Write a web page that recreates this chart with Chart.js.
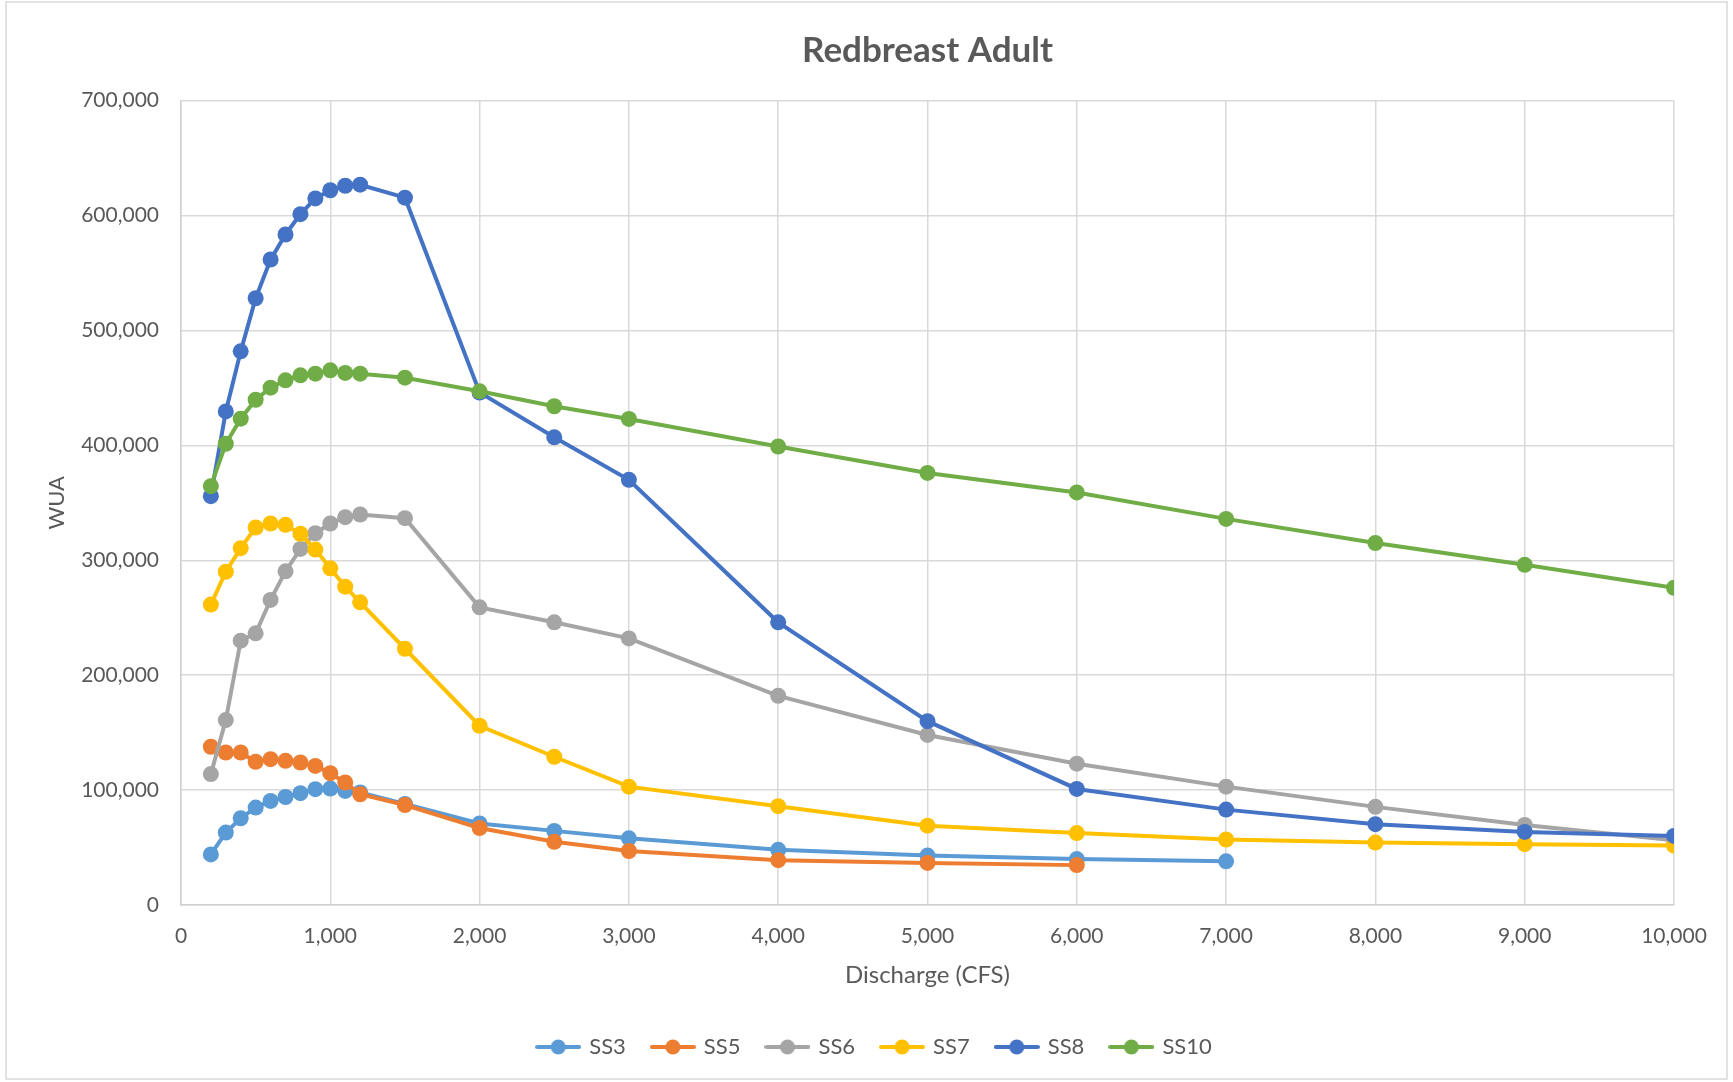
<!DOCTYPE html>
<html>
<head>
<meta charset="utf-8">
<script src="https://cdn.jsdelivr.net/npm/chart.js@4.4.1/dist/chart.umd.min.js"></script>
<style>
  html, body { margin: 0; padding: 0; background: #fff; }
  #wrap { width: 1733px; height: 1082px; position: relative; }
</style>
</head>
<body>
<div id="wrap"><canvas id="myChart" width="1733" height="1082"></canvas></div>
<script>
// discharge values (CFS) shared by all series
const discharge = [200, 300, 400, 500, 600, 700, 800, 900, 1000, 1100, 1200, 1500, 2000, 2500, 3000, 4000, 5000, 6000, 7000, 8000, 9000, 10000];

// WUA, series stop where the line stops
const ss3 = [44000, 63000, 75500, 84800, 90600, 94000, 97300, 100800, 101300, 99300, 97900, 88000, 71000, 64500, 58000, 48000, 43000, 40000, 38000];
const ss5 = [137700, 132700, 132700, 124600, 126900, 125500, 124000, 121000, 114700, 106600, 96400, 87000, 67000, 55000, 47000, 39000, 36600, 34700];
const ss6 = [113900, 160900, 230000, 236400, 265500, 290400, 309900, 323500, 332000, 337500, 339800, 336600, 259000, 246000, 232000, 182000, 148000, 123000, 103000, 85400, 69700, 56300];
const ss7 = [261400, 290000, 310500, 328500, 332000, 330800, 323000, 309300, 293000, 277000, 263400, 223000, 156000, 129000, 103000, 86000, 69000, 62600, 57000, 54300, 52900, 51700];
const ss8 = [355800, 429500, 481800, 528000, 561700, 583500, 601200, 614900, 622000, 625900, 626800, 615500, 446000, 407000, 370000, 246000, 160000, 101000, 83000, 70300, 63600, 60100];
const ss10 = [364500, 401400, 423200, 439700, 450200, 456600, 460900, 462400, 465300, 463000, 462400, 458900, 447000, 434000, 423000, 399000, 376000, 359000, 336000, 315000, 296000, 276000];

const seriesNames = ["SS3", "SS5", "SS6", "SS7", "SS8", "SS10"];
const seriesValues = [ss3, ss5, ss6, ss7, ss8, ss10];
const seriesColors = ["#5B9BD5", "#ED7D31", "#A5A5A5", "#FFC000", "#4472C4", "#70AD47"];

const xTicks = [0, 1000, 2000, 3000, 4000, 5000, 6000, 7000, 8000, 9000, 10000];
const yTicks = [0, 100000, 200000, 300000, 400000, 500000, 600000, 700000];

const FONT = "Lato, 'Open Sans', sans-serif";
const TXT = "#595959";

// little line-with-dot image for the legend, like Excel
function legendIcon(color) {
    const c = document.createElement("canvas");
    c.width = 46; c.height = 18;
    const g = c.getContext("2d");
    g.strokeStyle = color;
    g.lineWidth = 4;
    g.lineCap = "round";
    g.beginPath();
    g.moveTo(2, 9); g.lineTo(44, 9);
    g.stroke();
    g.fillStyle = color;
    g.beginPath();
    g.arc(23, 9, 7.5, 0, Math.PI * 2);
    g.fill();
    return c;
}

const datasets = seriesNames.map((name, i) => ({
    label: name,
    data: seriesValues[i].map((v, k) => ({ x: discharge[k], y: v })),
    borderColor: seriesColors[i],
    backgroundColor: seriesColors[i],
    borderWidth: 4,
    pointRadius: 8,
    pointHoverRadius: 9,
    pointBorderWidth: 0,
    pointStyle: "circle",
    tension: 0,
    order: seriesNames.length - i, // later series drawn on top, like Excel
    legendIcon: legendIcon(seriesColors[i])
}));

const frame = {
    id: 'frame',
    beforeDraw: (chart) => {
        const { ctx } = chart;
        ctx.save();
        ctx.fillStyle = '#ffffff';
        ctx.fillRect(0, 0, chart.width, chart.height);
        ctx.strokeStyle = '#d9d9d9';
        ctx.lineWidth = 1.5;
        ctx.strokeRect(6, 2, 1721, 1077);
        ctx.restore();
    },
    afterLayout: (chart) => {
        // Excel centres the title over the plot area
        const a = chart.chartArea;
        if (chart.titleBlock) {
            chart.titleBlock.left = a.left;
            chart.titleBlock.right = a.right;
        }
        if (chart.legend) {
            chart.legend.left += 33;
            chart.legend.right += 33;
        }
    }
};

const ctx = document.getElementById('myChart').getContext('2d');
new Chart(ctx, {
    type: 'line',
    data: { datasets: datasets },
    options: {
        responsive: false,
        animation: false,
        layout: { padding: { left: 10, right: 59, top: 10, bottom: 14 } },
        scales: {
            x: {
                type: 'linear',
                min: 0,
                max: 10000,
                afterBuildTicks: (scale) => { scale.ticks = xTicks.map(v => ({ value: v })); },
                afterFit: (scale) => { scale.height = 104; },
                grid: { color: '#d9d9d9', lineWidth: 1.5, drawTicks: false },
                border: { color: '#d0d0d0', width: 1.5 },
                ticks: {
                    padding: 19,
                    color: TXT,
                    font: { family: FONT, size: 21 },
                    maxRotation: 0,
                    callback: (v) => v.toLocaleString('en-US')
                },
                title: {
                    display: true,
                    text: 'Discharge (CFS)',
                    color: TXT,
                    font: { family: FONT, size: 24 },
                    padding: { top: 0, bottom: 19 }
                }
            },
            y: {
                min: 0,
                max: 700000,
                afterBuildTicks: (scale) => { scale.ticks = yTicks.map(v => ({ value: v })); },
                afterFit: (scale) => { scale.width = 171; },
                grid: { color: '#d9d9d9', lineWidth: 1.5, drawTicks: false },
                border: { color: '#d0d0d0', width: 1.5 },
                ticks: {
                    padding: 22,
                    color: TXT,
                    font: { family: FONT, size: 21 },
                    callback: (v) => v.toLocaleString('en-US')
                },
                title: {
                    display: true,
                    text: 'WUA',
                    color: TXT,
                    font: { family: FONT, size: 22 },
                    padding: { top: 34, bottom: 0 }
                }
            }
        },
        plugins: {
            title: {
                display: true,
                text: 'Redbreast Adult',
                color: TXT,
                font: { family: FONT, size: 35, weight: 'bold' },
                padding: { top: 20, bottom: 28.6 }
            },
            legend: {
                position: 'bottom',
                labels: {
                    usePointStyle: true,
                    pointStyleWidth: 40,
                    color: TXT,
                    font: { family: FONT, size: 22 },
                    padding: 27,
                    sort: (a, b) => a.datasetIndex - b.datasetIndex,
                    generateLabels: (chart) => chart.data.datasets.map((ds, i) => ({
                        text: ds.label,
                        fillStyle: ds.borderColor,
                        strokeStyle: ds.borderColor,
                        fontColor: TXT,
                        lineWidth: 0,
                        pointStyle: ds.legendIcon,
                        hidden: !chart.isDatasetVisible(i),
                        datasetIndex: i
                    }))
                }
            },
            tooltip: { enabled: true }
        }
    },
    plugins: [frame]
});
</script>
</body>
</html>
